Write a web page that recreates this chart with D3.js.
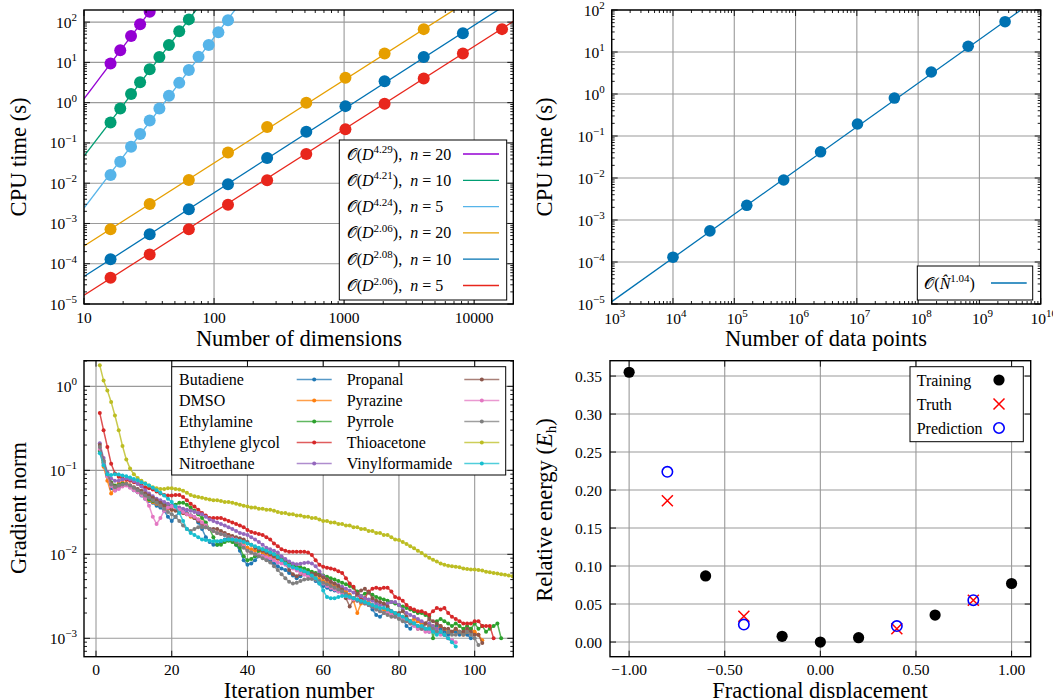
<!DOCTYPE html>
<html><head><meta charset="utf-8">
<script src="https://cdn.jsdelivr.net/npm/d3@7"></script>
<style>body{margin:0;background:#fff}svg{display:block}</style>
</head><body>
<script>
// ---------------- DATA ----------------
// Top-left: CPU time vs number of dimensions
const tlNs = [20, 10, 5, 20, 10, 5];
const tlExponents = [4.29, 4.21, 4.24, 2.06, 2.08, 2.06];
const tlFitAt10 = [1.24, 0.047, 0.0024, 2.77e-4, 4.8e-5, 1.65e-5];
const tlColors = ["#9400d3", "#009e73", "#56b4e9", "#e69f00", "#0072b2", "#e8261c"];
const tlDims = [
  [16, 19, 23, 27, 32],
  [16, 19, 23, 27, 32, 38, 45, 54, 64],
  [16, 19, 23, 27, 32, 38, 45, 54, 64, 76, 91, 108, 128],
  [16, 32, 64, 128, 256, 512, 1024, 2048, 4096],
  [16, 32, 64, 128, 256, 512, 1024, 2048, 4096, 8192],
  [16, 32, 64, 128, 256, 512, 1024, 2048, 4096, 8192, 16384]
];
const tlTimes = [
  [9.4, 20, 45, 88, 180],
  [0.32, 0.72, 1.63, 3.2, 6.8, 13.6, 27, 59, 117],
  [0.016, 0.034, 0.08, 0.166, 0.36, 0.72, 1.48, 3.1, 6.5, 13.8, 27, 56, 112],
  [7.2e-4, 3.05e-3, 0.012, 0.058, 0.25, 1.0, 4.15, 16.7, 67],
  [1.3e-4, 5.4e-4, 2.25e-3, 9.4e-3, 0.042, 0.19, 0.82, 3.4, 13.6, 53],
  [4.5e-5, 1.7e-4, 7.2e-4, 2.9e-3, 0.0118, 0.053, 0.22, 0.94, 4.0, 16.7, 67]
];

// Top-right: CPU time vs number of data points
const trPoints = [1e4, 4e4, 1.6e5, 6.4e5, 2.56e6, 1.024e7, 4.096e7, 1.6384e8, 6.5536e8, 2.62144e9];
const trTimes = [1.3e-4, 5.5e-4, 2.24e-3, 8.95e-3, 0.042, 0.193, 0.80, 3.34, 13.7, 52.7];
const trExponent = 1.04;
const trFitAt1e3 = 1.14e-5;

// Bottom-left: gradient norm vs iteration (iteration = index + 1)
const blNames = ["Butadiene", "DMSO", "Ethylamine", "Ethylene glycol", "Nitroethane",
  "Propanal", "Pyrazine", "Pyrrole", "Thioacetone", "Vinylformamide"];
const blColors = ["#1f77b4", "#ff7f0e", "#2ca02c", "#d62728", "#9467bd",
  "#8c564b", "#e377c2", "#7f7f7f", "#bcbd22", "#17becf"];
const butadiene = [0.17,0.12,0.085,0.061,0.058,0.062,0.066,0.068,0.063,0.058,0.055,0.05,0.046,0.043,0.041,0.038,0.036,0.033,0.028,0.025,
  0.028,0.032,0.033,0.031,0.029,0.027,0.024,0.02,0.016,0.014,0.013,0.013,0.014,0.015,0.016,0.015,0.013,0.011,0.0085,0.0075,
  0.0078,0.0085,0.0095,0.0098,0.0092,0.0085,0.0078,0.0072,0.0068,0.0065,0.006,0.0056,0.0052,0.0055,0.006,0.0058,0.0053,0.0048,0.0045,0.0042,
  0.004,0.0038,0.0037,0.0036,0.0035,0.0033,0.0031,0.003,0.0029,0.0028,0.0027,0.0025,0.0022,0.0019,0.0018,0.002,0.0022,0.0021,0.002,0.0019,
  0.0017,0.0014,0.0013,0.0015,0.0016,0.0015,0.0013,0.0012,0.0013,0.0014,0.0013,0.0012,0.0011,0.0012,0.0012,0.0011,0.0012,0.0011,0.001];
const dmso = [0.18,0.11,0.075,0.053,0.062,0.07,0.072,0.07,0.066,0.061,0.057,0.052,0.047,0.044,0.042,0.04,0.039,0.037,0.035,0.034,
  0.034,0.033,0.031,0.03,0.028,0.027,0.026,0.024,0.022,0.02,0.019,0.018,0.018,0.017,0.017,0.016,0.015,0.014,0.013,0.012,
  0.0115,0.011,0.011,0.0105,0.01,0.0095,0.009,0.0088,0.0085,0.0082,0.0078,0.0072,0.0068,0.0065,0.0063,0.006,0.0057,0.0054,0.0051,0.0048,
  0.0046,0.0044,0.0042,0.004,0.0038,0.0036,0.0033,0.0028,0.002,0.0026,0.003,0.0028,0.0025,0.0024,0.0023,0.0022,0.0021,0.002,0.002,0.0019,
  0.0018,0.0017,0.0016,0.0017,0.0016,0.0015,0.0015,0.0014,0.0014,0.0013,0.0014,0.0013,0.0012,0.0012,0.0013,0.0012,0.0011,0.0012,0.0013,0.0012,
  0.0011,0.00095];
const ethylamine = [0.17,0.125,0.09,0.072,0.066,0.067,0.069,0.068,0.065,0.06,0.056,0.052,0.048,0.045,0.043,0.042,0.041,0.04,0.039,0.038,
  0.039,0.041,0.041,0.039,0.036,0.033,0.03,0.027,0.024,0.02,0.016,0.013,0.013,0.014,0.0145,0.014,0.013,0.012,0.0095,0.0085,
  0.0088,0.0095,0.011,0.0115,0.011,0.0105,0.01,0.0095,0.009,0.0085,0.008,0.0075,0.0072,0.007,0.0068,0.0065,0.0062,0.006,0.0058,0.0056,
  0.0054,0.0052,0.005,0.0048,0.0046,0.0044,0.0042,0.004,0.0036,0.0032,0.0034,0.0035,0.0033,0.0031,0.003,0.0029,0.0028,0.0027,0.0026,0.0025,
  0.0024,0.0023,0.0022,0.0021,0.002,0.002,0.0019,0.0018,0.001,0.0016,0.0017,0.0016,0.0015,0.0014,0.0015,0.0014,0.0013,0.0014,0.0013,0.0015,
  0.0013,0.0014,0.0012,0.0013,0.0014,0.0015,0.001];
const ethyleneGlycol = [0.48,0.3,0.19,0.12,0.092,0.084,0.08,0.077,0.075,0.072,0.069,0.066,0.063,0.061,0.059,0.056,0.053,0.051,0.05,0.05,
  0.051,0.051,0.048,0.044,0.04,0.037,0.034,0.031,0.029,0.027,0.027,0.027,0.027,0.026,0.025,0.024,0.023,0.022,0.021,0.0195,
  0.0185,0.018,0.0175,0.017,0.016,0.015,0.0135,0.0125,0.0115,0.011,0.0107,0.0107,0.0107,0.0107,0.0107,0.0105,0.0098,0.0085,0.0075,0.0071,
  0.0069,0.0068,0.0066,0.0063,0.006,0.0052,0.0045,0.0041,0.0033,0.0029,0.003,0.0036,0.0039,0.004,0.0039,0.004,0.004,0.0036,0.0031,0.003,
  0.0028,0.0025,0.0023,0.0022,0.0021,0.0021,0.002,0.0019,0.0021,0.0023,0.0022,0.0023,0.002,0.0018,0.0017,0.0016,0.0015,0.0015,0.0015,0.0016,
  0.0016,0.0014,0.0014,0.0014,0.001];
const nitroethane = [0.21,0.14,0.095,0.08,0.075,0.075,0.078,0.08,0.078,0.074,0.069,0.064,0.058,0.053,0.049,0.046,0.044,0.042,0.04,0.038,
  0.037,0.036,0.035,0.034,0.033,0.032,0.031,0.03,0.028,0.026,0.025,0.024,0.023,0.022,0.021,0.02,0.019,0.018,0.0175,0.017,
  0.016,0.015,0.014,0.013,0.012,0.0115,0.011,0.0105,0.0095,0.0088,0.0082,0.0078,0.0076,0.0077,0.0079,0.008,0.0078,0.0072,0.0063,0.0055,
  0.005,0.0047,0.0045,0.0043,0.0041,0.0039,0.0037,0.0035,0.0033,0.0032,0.003,0.0029,0.0028,0.0026,0.0025,0.0025,0.0026,0.0027,0.0027,0.0025,
  0.0022,0.002,0.0019,0.0018,0.0017,0.0016,0.0015,0.0015,0.0014,0.0013,0.0012,0.0011,0.001,0.00095];
const propanal = [0.2,0.13,0.09,0.07,0.064,0.064,0.066,0.067,0.066,0.063,0.06,0.057,0.053,0.05,0.047,0.044,0.041,0.038,0.036,0.034,
  0.033,0.032,0.031,0.03,0.029,0.027,0.025,0.023,0.021,0.02,0.02,0.02,0.019,0.018,0.017,0.0165,0.016,0.0155,0.015,0.014,
  0.013,0.012,0.0115,0.011,0.0105,0.01,0.0095,0.009,0.0085,0.0078,0.0065,0.0058,0.0055,0.0058,0.006,0.006,0.0059,0.0058,0.0056,0.0053,
  0.005,0.0047,0.0045,0.0042,0.0038,0.003,0.0024,0.0029,0.0034,0.0037,0.0039,0.0035,0.003,0.0028,0.0027,0.0026,0.0024,0.0021,0.0019,0.002,
  0.0021,0.0018,0.0016,0.0015,0.0013,0.0013,0.0015,0.0017,0.0016,0.0015,0.0014,0.0013,0.0013,0.0012,0.0013,0.0012,0.0012,0.0013,0.0012,0.0011,
  0.0011,0.00088];
const pyrazine = [0.18,0.12,0.085,0.065,0.057,0.06,0.064,0.066,0.062,0.058,0.055,0.051,0.046,0.038,0.028,0.023,0.027,0.033,0.036,0.037,
  0.036,0.034,0.032,0.03,0.029,0.028,0.026,0.024,0.022,0.02,0.019,0.018,0.0175,0.017,0.016,0.0155,0.015,0.014,0.0125,0.011,
  0.0105,0.01,0.0098,0.0095,0.0092,0.009,0.0085,0.008,0.0078,0.0075,0.0072,0.0068,0.0064,0.006,0.0057,0.0054,0.0052,0.005,0.0048,0.0045,
  0.0042,0.004,0.0038,0.0036,0.0034,0.0032,0.003,0.0029,0.0028,0.0027,0.0026,0.0025,0.0024,0.0022,0.0021,0.002,0.002,0.0019,0.0018,0.0018,
  0.0017,0.0016,0.0015,0.0014,0.0013,0.0013,0.0012,0.0012,0.0013,0.0012,0.0011,0.0011,0.001,0.00095,0.0009];
const pyrrole = [0.19,0.13,0.09,0.068,0.063,0.066,0.068,0.069,0.066,0.062,0.058,0.054,0.05,0.047,0.044,0.041,0.038,0.035,0.032,0.03,
  0.028,0.025,0.022,0.02,0.019,0.02,0.021,0.021,0.021,0.02,0.019,0.018,0.0175,0.017,0.016,0.015,0.014,0.013,0.012,0.011,
  0.0105,0.01,0.0095,0.009,0.0085,0.008,0.0072,0.0065,0.0058,0.0052,0.0047,0.0045,0.0046,0.0048,0.005,0.0051,0.0051,0.005,0.0048,0.0046,
  0.0044,0.0042,0.004,0.0038,0.0036,0.0034,0.0032,0.003,0.0028,0.0027,0.0026,0.0025,0.0024,0.0022,0.0021,0.002,0.0019,0.0018,0.0018,0.0017,
  0.0016,0.0016,0.0015,0.0015,0.0014,0.0013,0.0013,0.0014,0.0013,0.0012,0.0012,0.0011,0.0012,0.0011,0.0011,0.0012,0.0011,0.0012,0.0011,0.001,
  0.00083];
const thioacetone = [1.78,1.17,0.89,0.65,0.45,0.3,0.195,0.135,0.105,0.09,0.081,0.075,0.07,0.066,0.063,0.061,0.06,0.06,0.061,0.061,
  0.06,0.059,0.057,0.054,0.051,0.049,0.048,0.047,0.046,0.045,0.044,0.044,0.043,0.042,0.042,0.041,0.04,0.039,0.038,0.037,
  0.036,0.036,0.035,0.035,0.034,0.034,0.033,0.032,0.031,0.031,0.03,0.03,0.029,0.029,0.028,0.028,0.027,0.027,0.026,0.025,
  0.025,0.024,0.024,0.023,0.023,0.022,0.022,0.021,0.021,0.02,0.02,0.019,0.019,0.018,0.018,0.017,0.017,0.016,0.015,0.0148,
  0.014,0.0133,0.0125,0.0118,0.011,0.0104,0.0097,0.0091,0.0086,0.0082,0.0078,0.0075,0.0073,0.0072,0.0071,0.007,0.0068,0.0067,0.0066,0.0066,
  0.0065,0.0064,0.0062,0.0061,0.006,0.0059,0.0058,0.0057,0.0056,0.0055];
const vinylformamide = [0.16,0.115,0.09,0.088,0.09,0.089,0.087,0.085,0.082,0.079,0.076,0.072,0.069,0.066,0.062,0.058,0.054,0.05,0.046,0.042,
  0.037,0.031,0.025,0.02,0.018,0.017,0.016,0.015,0.0148,0.0145,0.0143,0.0143,0.0145,0.0148,0.015,0.015,0.0148,0.0145,0.014,0.0135,
  0.013,0.0125,0.012,0.0115,0.011,0.0105,0.01,0.0093,0.0085,0.0078,0.0073,0.007,0.0068,0.0065,0.0063,0.006,0.0056,0.0052,0.0045,0.0037,
  0.0031,0.003,0.003,0.0031,0.0032,0.0032,0.0031,0.003,0.0029,0.0028,0.0027,0.0026,0.0025,0.0024,0.0023,0.0023,0.0022,0.0021,0.002,0.0019,
  0.0018,0.0017,0.0016,0.0015,0.0014,0.0014,0.0013,0.0013,0.0012,0.0011,0.0012,0.0011,0.001,0.0009,0.0008];
const blSeries = [butadiene, dmso, ethylamine, ethyleneGlycol, nitroethane,
  propanal, pyrazine, pyrrole, thioacetone, vinylformamide];

// Bottom-right: relative energy vs fractional displacement
const trainX = [-1.0, -0.6, -0.2, 0.0, 0.2, 0.6, 1.0];
const trainY = [0.355, 0.087, 0.0075, 0.0, 0.0057, 0.0355, 0.077];
const testX = [-0.8, -0.4, 0.4, 0.8];
const truthY = [0.186, 0.034, 0.0175, 0.055];
const predY = [0.224, 0.023, 0.021, 0.055];
const brYTicks = [0, 0.05, 0.10, 0.15, 0.20, 0.25, 0.30, 0.35];
const brXTicks = [-1.0, -0.5, 0.0, 0.5, 1.0];
const blXTicks = [0, 20, 40, 60, 80, 100];

// ---------------- DRAWING ----------------
const FONT = "'Liberation Serif','DejaVu Serif',serif";
const TICKFS = 15.5, SUPFS = 11, TITLEFS = 22.5, LEGFS = 16;
const svg = d3.select("body").append("svg")
  .attr("width", 1053).attr("height", 698)
  .style("font-family", FONT);

const GRID = "#9a9a9a";

function setupPanel(id, x, y) {
  const [x0, x1] = x.range(), [yb, yt] = y.range();
  svg.append("clipPath").attr("id", id).append("rect")
    .attr("x", x0).attr("y", yt).attr("width", x1 - x0).attr("height", yb - yt);
  const grid = svg.append("g");
  const data = svg.append("g").attr("clip-path", `url(#${id})`);
  const frame = svg.append("g");
  return { x, y, x0, x1, yb, yt, grid, data, frame };
}
function gridLines(P, xs, ys) {
  xs.forEach(v => P.grid.append("line").attr("x1", P.x(v)).attr("x2", P.x(v))
    .attr("y1", P.yt).attr("y2", P.yb).attr("stroke", GRID).attr("stroke-width", 1.1));
  ys.forEach(v => P.grid.append("line").attr("y1", P.y(v)).attr("y2", P.y(v))
    .attr("x1", P.x0).attr("x2", P.x1).attr("stroke", GRID).attr("stroke-width", 1.1));
}
function tickMarks(P, xs, ys, len) {
  const g = P.frame;
  xs.forEach(v => {
    const px = P.x(v);
    g.append("line").attr("x1", px).attr("x2", px).attr("y1", P.yb).attr("y2", P.yb - len).attr("stroke", "#000").attr("stroke-width", 0.9);
    g.append("line").attr("x1", px).attr("x2", px).attr("y1", P.yt).attr("y2", P.yt + len).attr("stroke", "#000").attr("stroke-width", 0.9);
  });
  ys.forEach(v => {
    const py = P.y(v);
    g.append("line").attr("y1", py).attr("y2", py).attr("x1", P.x0).attr("x2", P.x0 + len).attr("stroke", "#000").attr("stroke-width", 0.9);
    g.append("line").attr("y1", py).attr("y2", py).attr("x1", P.x1).attr("x2", P.x1 - len).attr("stroke", "#000").attr("stroke-width", 0.9);
  });
}
function border(P) {
  P.frame.append("rect").attr("x", P.x0).attr("y", P.yt).attr("width", P.x1 - P.x0).attr("height", P.yb - P.yt)
    .attr("fill", "none").attr("stroke", "#000").attr("stroke-width", 1.4);
}
function logTicks(lo, hi) {
  const maj = [], min = [];
  for (let k = Math.floor(Math.log10(lo)) - 1; k <= Math.ceil(Math.log10(hi)); k++) {
    const b = Math.pow(10, k);
    if (b >= lo * 0.999 && b <= hi * 1.001) maj.push(b);
    for (let m = 2; m < 10; m++) { const v = m * b; if (v > lo * 1.001 && v < hi * 0.999) min.push(v); }
  }
  return { maj, min };
}
function powText(sel, v) {
  const k = Math.round(Math.log10(v));
  sel.append("tspan").text("10");
  sel.append("tspan").attr("dy", -6.5).attr("font-size", SUPFS).text(k < 0 ? "\u2212" + (-k) : String(k));
}
function yLogLabels(P, ticks) {
  ticks.forEach(v => {
    const t = P.frame.append("text").attr("x", P.x0 - 7).attr("y", P.y(v) + 5.5)
      .attr("text-anchor", "end").attr("font-size", TICKFS);
    powText(t, v);
  });
}
function axisTitleX(cx, y, txt) {
  return svg.append("text").attr("x", cx).attr("y", y).attr("text-anchor", "middle")
    .attr("font-size", TITLEFS).text(txt);
}
function axisTitleY(x, cy, build) {
  const t = svg.append("text").attr("transform", `translate(${x},${cy}) rotate(-90)`)
    .attr("text-anchor", "middle").attr("font-size", TITLEFS);
  build(t);
  return t;
}

// ===== Top-left =====
{
  const x = d3.scaleLog().domain([10, 20000]).range([84, 513.3]);
  const y = d3.scaleLog().domain([1e-5, 200]).range([304, 10]);
  const P = setupPanel("clipTL", x, y);
  const xt = logTicks(10, 20000), yt = logTicks(1e-5, 200);
  gridLines(P, xt.maj, yt.maj);
  const line = d3.line().x(d => x(d[0])).y(d => y(d[1]));
  tlExponents.forEach((p, i) => {
    const ends = [10, 20000].map(D => [D, tlFitAt10[i] * Math.pow(D / 10, p)]);
    P.data.append("path").attr("d", line(ends)).attr("fill", "none")
      .attr("stroke", tlColors[i]).attr("stroke-width", 1.3);
  });
  tlDims.forEach((dims, i) => {
    P.data.selectAll(null).data(dims.map((D, j) => [D, tlTimes[i][j]])).enter()
      .append("circle").attr("cx", d => x(d[0])).attr("cy", d => y(d[1])).attr("r", 6)
      .attr("fill", tlColors[i]);
  });
  tickMarks(P, xt.maj, yt.maj, 6);
  tickMarks(P, xt.min, yt.min, 3);
  border(P);
  xt.maj.forEach(v => P.frame.append("text").attr("x", x(v)).attr("y", 322.5)
    .attr("text-anchor", "middle").attr("font-size", TICKFS).text(d3.format("d")(v)));
  yLogLabels(P, yt.maj);
  axisTitleX(299, 345.5, "Number of dimensions");
  axisTitleY(26, 157, t => t.text("CPU time (s)"));
  // legend
  const lg = svg.append("g");
  lg.append("rect").attr("x", 339.3).attr("y", 140).attr("width", 167.4).attr("height", 160)
    .attr("fill", "#fff").attr("stroke", "#000").attr("stroke-width", 1);
  tlExponents.forEach((p, i) => {
    const cy = 154 + i * 26.3;
    const t = lg.append("text").attr("x", 346.7).attr("y", cy + 5.5).attr("font-size", LEGFS)
      .style("white-space", "pre");
    t.append("tspan").text("\u{1D4AA}(");
    t.append("tspan").attr("font-style", "italic").text("D");
    t.append("tspan").attr("dy", -6.5).attr("font-size", 11).text(p.toFixed(2));
    t.append("tspan").attr("dy", 6.5).text("),  ");
    t.append("tspan").attr("font-style", "italic").text("n");
    t.append("tspan").text(" = " + tlNs[i]);
    lg.append("line").attr("x1", 463).attr("x2", 499).attr("y1", cy).attr("y2", cy)
      .attr("stroke", tlColors[i]).attr("stroke-width", 1.3);
  });
}

// ===== Top-right =====
{
  const x = d3.scaleLog().domain([1e3, 1e10]).range([611.7, 1040.7]);
  const y = d3.scaleLog().domain([1e-5, 1e2]).range([304, 10]);
  const P = setupPanel("clipTR", x, y);
  const xt = logTicks(1e3, 1e10), yt = logTicks(1e-5, 1e2);
  gridLines(P, xt.maj, yt.maj);
  const ends = [1e3, 1e10].map(N => [N, trFitAt1e3 * Math.pow(N / 1e3, trExponent)]);
  P.data.append("path").attr("d", d3.line().x(d => x(d[0])).y(d => y(d[1]))(ends))
    .attr("fill", "none").attr("stroke", "#0072b2").attr("stroke-width", 1.3);
  P.data.selectAll(null).data(trPoints.map((n, j) => [n, trTimes[j]])).enter()
    .append("circle").attr("cx", d => x(d[0])).attr("cy", d => y(d[1])).attr("r", 5.8).attr("fill", "#0072b2");
  tickMarks(P, xt.maj, yt.maj, 6);
  tickMarks(P, xt.min, yt.min, 3);
  border(P);
  xt.maj.forEach(v => {
    const t = P.frame.append("text").attr("x", x(v) + 3).attr("y", 323.5)
      .attr("text-anchor", "middle").attr("font-size", TICKFS);
    powText(t, v);
  });
  yLogLabels(P, yt.maj);
  axisTitleX(826, 345.5, "Number of data points");
  axisTitleY(552, 157, t => t.text("CPU time (s)"));
  const lg = svg.append("g");
  lg.append("rect").attr("x", 917.3).attr("y", 266).attr("width", 115.4).attr("height", 34)
    .attr("fill", "#fff").attr("stroke", "#000").attr("stroke-width", 1);
  const t = lg.append("text").attr("x", 924.3).attr("y", 288.5).attr("font-size", LEGFS);
  t.append("tspan").text("\u{1D4AA}(");
  t.append("tspan").attr("font-style", "italic").text("N\u0302");
  t.append("tspan").attr("dy", -6.5).attr("font-size", 11).text(trExponent.toFixed(2));
  t.append("tspan").attr("dy", 6.5).text(")");
  lg.append("line").attr("x1", 991).attr("x2", 1026.7).attr("y1", 283).attr("y2", 283)
    .attr("stroke", "#0072b2").attr("stroke-width", 1.3);
}

// ===== Bottom-left =====
{
  const x = d3.scaleLinear().domain([-3.17, 110.2]).range([84, 513.3]);
  const y = d3.scaleLog().domain([6.04e-4, 2.02]).range([656.7, 360.7]);
  const P = setupPanel("clipBL", x, y);
  const yt = logTicks(6.04e-4, 2.02);
  gridLines(P, blXTicks, yt.maj);
  const line = d3.line().x((d, i) => x(i + 1)).y(d => y(d));
  blSeries.forEach((s, i) => {
    P.data.append("path").attr("d", line(s)).attr("fill", "none")
      .attr("stroke", blColors[i]).attr("stroke-width", 1.5).attr("stroke-opacity", 0.8);
    P.data.selectAll(null).data(s).enter().append("circle")
      .attr("cx", (d, j) => x(j + 1)).attr("cy", d => y(d)).attr("r", 2).attr("fill", blColors[i]);
  });
  tickMarks(P, blXTicks, yt.maj, 6);
  tickMarks(P, [], yt.min, 3);
  border(P);
  blXTicks.forEach(v => P.frame.append("text").attr("x", x(v)).attr("y", 675)
    .attr("text-anchor", "middle").attr("font-size", TICKFS).text(v));
  yLogLabels(P, yt.maj);
  axisTitleX(299, 698, "Iteration number");
  axisTitleY(26, 508, t => t.text("Gradient norm"));
  const lg = svg.append("g");
  lg.append("rect").attr("x", 171.7).attr("y", 366.7).attr("width", 334).attr("height", 108.3)
    .attr("fill", "#fff").attr("stroke", "#000").attr("stroke-width", 1);
  blNames.forEach((nm, i) => {
    const col = Math.floor(i / 5), row = i % 5;
    const cy = 379.5 + row * 21;
    const tx = col === 0 ? 179 : 346.7;
    const lx0 = col === 0 ? 296.7 : 464.3;
    lg.append("text").attr("x", tx).attr("y", cy + 5.5).attr("font-size", LEGFS).text(nm);
    lg.append("line").attr("x1", lx0).attr("x2", lx0 + 35).attr("y1", cy).attr("y2", cy)
      .attr("stroke", blColors[i]).attr("stroke-width", 1.6).attr("stroke-opacity", 0.75);
    lg.append("circle").attr("cx", lx0 + 17.5).attr("cy", cy).attr("r", 2).attr("fill", blColors[i]);
  });
}

// ===== Bottom-right =====
{
  const x = d3.scaleLinear().domain([-1.1, 1.1]).range([610, 1030.7]);
  const y = d3.scaleLinear().domain([-0.0193, 0.3702]).range([656.7, 360.7]);
  const P = setupPanel("clipBR", x, y);
  gridLines(P, brXTicks, brYTicks);
  P.data.selectAll(null).data(trainX.map((v, i) => [v, trainY[i]])).enter().append("circle")
    .attr("cx", d => x(d[0])).attr("cy", d => y(d[1])).attr("r", 5.6).attr("fill", "#000");
  const xs = 5.5;
  testX.forEach((v, i) => {
    const cx = x(v), cy = y(truthY[i]);
    P.data.append("path").attr("d", `M${cx - xs},${cy - xs}L${cx + xs},${cy + xs}M${cx - xs},${cy + xs}L${cx + xs},${cy - xs}`)
      .attr("stroke", "#ff0000").attr("stroke-width", 1.5).attr("fill", "none");
  });
  P.data.selectAll(null).data(testX.map((v, i) => [v, predY[i]])).enter().append("circle")
    .attr("cx", d => x(d[0])).attr("cy", d => y(d[1])).attr("r", 5.2)
    .attr("fill", "none").attr("stroke", "#0000ff").attr("stroke-width", 1.6);
  tickMarks(P, brXTicks, brYTicks, 6);
  border(P);
  const fmt = d3.format(".2f");
  brXTicks.forEach(v => P.frame.append("text").attr("x", x(v)).attr("y", 674.5)
    .attr("text-anchor", "middle").attr("font-size", TICKFS).text(fmt(v)));
  brYTicks.forEach(v => P.frame.append("text").attr("x", 602).attr("y", y(v) + 5.5)
    .attr("text-anchor", "end").attr("font-size", TICKFS).text(fmt(v)));
  axisTitleX(820, 698, "Fractional displacement");
  axisTitleY(552, 510, t => {
    t.append("tspan").text("Relative energy (");
    t.append("tspan").attr("font-style", "italic").text("E");
    t.append("tspan").attr("dy", 4).attr("font-size", 15).text("h");
    t.append("tspan").attr("dy", -4).text(")");
  });
  const lg = svg.append("g");
  lg.append("rect").attr("x", 910).attr("y", 366.7).attr("width", 113.3).attr("height", 75)
    .attr("fill", "#fff").attr("stroke", "#000").attr("stroke-width", 1);
  ["Training", "Truth", "Prediction"].forEach((nm, i) => {
    const cy = 380 + i * 24;
    lg.append("text").attr("x", 916.7).attr("y", cy + 5.5).attr("font-size", LEGFS).text(nm);
  });
  lg.append("circle").attr("cx", 999).attr("cy", 380).attr("r", 5.6).attr("fill", "#000");
  lg.append("path").attr("d", `M${999 - xs},${404 - xs}L${999 + xs},${404 + xs}M${999 - xs},${404 + xs}L${999 + xs},${404 - xs}`)
    .attr("stroke", "#ff0000").attr("stroke-width", 1.5);
  lg.append("circle").attr("cx", 999).attr("cy", 428).attr("r", 5.2)
    .attr("fill", "none").attr("stroke", "#0000ff").attr("stroke-width", 1.6);
}
</script>
</body></html>
